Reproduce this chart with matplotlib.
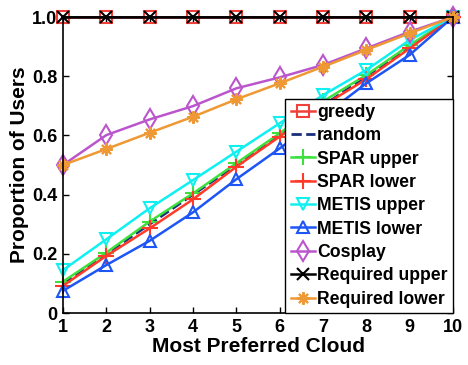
import matplotlib
matplotlib.use("Agg")
import matplotlib.pyplot as plt
import numpy as np

plt.rcParams['font.family'] = ['Liberation Sans', 'DejaVu Sans']
plt.rcParams['font.weight'] = 'bold'

clouds = [1, 2, 3, 4, 5, 6, 7, 8, 9, 10]
greedy = [1.0, 1.0, 1.0, 1.0, 1.0, 1.0, 1.0, 1.0, 1.0, 1.0]
random_ = [0.1, 0.2, 0.3, 0.4, 0.5, 0.6, 0.7, 0.8, 0.9, 1.0]
spar_upper = [0.106, 0.204, 0.309, 0.404, 0.506, 0.607, 0.715, 0.804, 0.905, 1.0]
spar_lower = [0.092, 0.193, 0.286, 0.384, 0.494, 0.596, 0.70, 0.79, 0.894, 1.0]
metis_upper = [0.145, 0.249, 0.354, 0.449, 0.545, 0.641, 0.736, 0.821, 0.922, 1.0]
metis_lower = [0.075, 0.162, 0.244, 0.340, 0.452, 0.556, 0.665, 0.776, 0.872, 1.0]
cosplay = [0.50, 0.601, 0.654, 0.699, 0.759, 0.796, 0.838, 0.894, 0.950, 1.0]
req_upper = [1.0, 1.0, 1.0, 1.0, 1.0, 1.0, 1.0, 1.0, 1.0, 1.0]
req_lower = [0.50, 0.554, 0.609, 0.663, 0.722, 0.776, 0.832, 0.889, 0.945, 1.0]

yticks = [0, 0.2, 0.4, 0.6, 0.8, 1.0]
yticklabels = ['0', '0.2', '0.4', '0.6', '0.8', '1.0']

fig = plt.figure(figsize=(4.68, 3.65), dpi=100)
ax = fig.add_axes([63/468, 52/365, 390/468, 296/365])

lw = 1.8
mew = 1.5
asterisk = (8, 2, 0)

series = [
    (greedy, 'greedy', '#f0403a', 's', '-', 8),
    (random_, 'random', '#1a2f7a', None, '--', 0),
    (spar_upper, 'SPAR upper', '#3ee03e', '+', '-', 11),
    (spar_lower, 'SPAR lower', '#ff3a2a', '+', '-', 11),
    (metis_upper, 'METIS upper', '#10f0f0', 'v', '-', 9),
    (metis_lower, 'METIS lower', '#1e55f5', '^', '-', 9),
    (cosplay, 'Cosplay', '#bb55cc', 'd', '-', 10),
    (req_upper, 'Required upper', '#000000', 'x', '-', 9),
    (req_lower, 'Required lower', '#ee9933', asterisk, '-', 9),
]

for vals, label, color, marker, ls, size in series:
    kw = {}
    if marker is not None:
        kw = dict(marker=marker, markersize=size, markeredgewidth=mew,
                  markerfacecolor='none', markeredgecolor=color)
    ax.plot(clouds, vals, linestyle=ls, color=color, linewidth=lw if ls == '-' else 2.0,
            label=label, clip_on=False, **kw)

ax.set_xlim(1, 10)
ax.set_ylim(0, 1)
ax.set_xticks(clouds)
ax.set_xticklabels([str(c) for c in clouds])
ax.set_yticks(yticks)
ax.set_yticklabels(yticklabels)
ax.tick_params(direction='in', top=True, right=True, labelsize=13, width=1, length=4, pad=4)
for lab in ax.get_xticklabels() + ax.get_yticklabels():
    lab.set_fontweight('bold')
for sp in ax.spines.values():
    sp.set_linewidth(1.2)

ax.set_xlabel('Most Preferred Cloud', fontsize=15, fontweight='bold', labelpad=1)
ax.set_ylabel('Proportion of Users', fontsize=15, fontweight='bold', labelpad=2)

leg = ax.legend(loc='lower right', bbox_to_anchor=(1, 0), borderaxespad=0,
                handlelength=1.4, handletextpad=0.1,
                labelspacing=0.36, borderpad=0.3, fancybox=False,
                framealpha=1, edgecolor='black', prop={'weight': 'bold', 'size': 12.7})
leg.get_frame().set_linewidth(1.0)

fig.savefig('out.png', dpi=100)
